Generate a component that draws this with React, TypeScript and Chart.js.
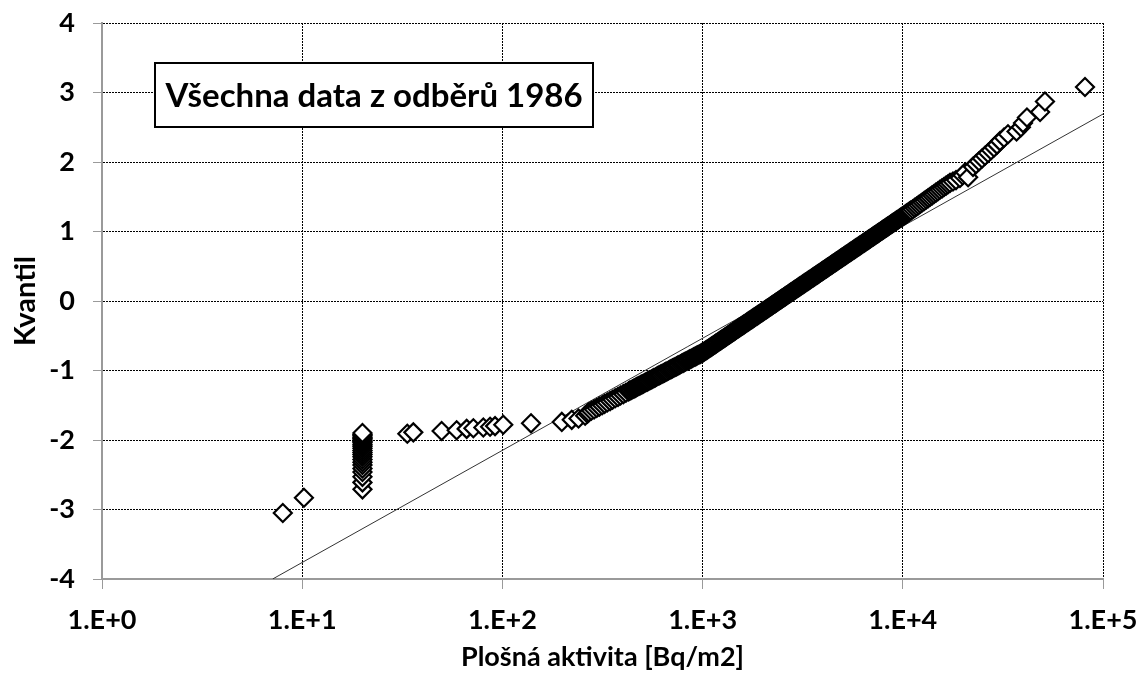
import React, { useEffect, useRef } from 'react';
import { Chart, registerables } from 'chart.js';

Chart.register(...registerables);

// Axis ticks
const xTickValues = [1, 10, 100, 1000, 10000, 100000];
const xTickLabels = ['1.E+0', '1.E+1', '1.E+2', '1.E+3', '1.E+4', '1.E+5'];
const yTickValues = [-4, -3, -2, -1, 0, 1, 2, 3, 4];

const chartTitle = 'Všechna data z odběrů 1986';
const xTitle = 'Plošná aktivita [Bq/m2]';
const yTitle = 'Kvantil';

// Lower tail (Bq/m2, quantile)
const lowActivity = [
  8.0, 10.2,
  20, 20, 20, 20, 20, 20, 20, 20, 20, 20, 20, 20, 20, 20, 20, 20, 20, 20, 20, 20, 20, 20, 20,
  33.5, 35.9, 49.7, 59.1, 66.3, 71.6, 80.3, 86.8, 91.9, 101, 139, 198, 222, 240, 259, 266,
];
const lowQuantile = [
  -3.05, -2.83,
  -2.71, -2.61, -2.53, -2.46, -2.41, -2.36, -2.32, -2.28, -2.24, -2.21, -2.18, -2.15,
  -2.12, -2.09, -2.07, -2.04, -2.02, -2.0, -1.98, -1.96, -1.94, -1.92, -1.9,
  -1.91, -1.89, -1.87, -1.86, -1.84, -1.83, -1.82, -1.81, -1.8, -1.78, -1.76, -1.74, -1.71, -1.69, -1.65, -1.62,
];

// Dense central band (even hundredths of the quantile)
const bandActivity = [
  270, 278, 287, 296, 305, 315, 324, 334, 345, 355,
  366, 378, 389, 402, 414, 427, 440, 454, 468, 482,
  498, 513, 529, 546, 562, 580, 597, 616, 636, 655,
  676, 696, 718, 741, 763, 787, 811, 837, 863, 889,
  917, 945, 975,
  1005, 1028, 1053, 1078, 1104, 1130, 1157, 1184, 1212, 1241,
  1270, 1301, 1332, 1363, 1396, 1428, 1462, 1497, 1532, 1569,
  1606, 1644, 1683, 1723, 1764, 1806, 1849, 1893, 1938, 1984,
  2031, 2079, 2129, 2179, 2231, 2284, 2338, 2393, 2450, 2508,
  2568, 2629, 2692, 2755, 2820, 2887, 2956, 3026, 3098, 3171,
  3247, 3324, 3403, 3484, 3567, 3651, 3738, 3827, 3917, 4010,
  4106, 4203, 4303, 4406, 4510, 4617, 4727, 4839, 4954, 5072,
  5192, 5315, 5442, 5571, 5703, 5838, 5977, 6119, 6264, 6413,
  6565, 6721, 6881, 7044, 7211, 7382, 7557, 7737, 7921, 8109,
  8301, 8499, 8700, 8907, 9118, 9333, 9555, 9781, 10014,
  10250, 10480, 10720, 10960, 11210, 11460, 11720, 11980, 12250, 12530,
  12810, 13100, 13400, 13700, 14010, 14320, 14640, 14980, 15310,
];
const bandQuantile = [
  -1.6, -1.58, -1.56, -1.54, -1.52, -1.5, -1.48, -1.46, -1.44, -1.42,
  -1.4, -1.38, -1.36, -1.34, -1.32, -1.3, -1.28, -1.26, -1.24, -1.22,
  -1.2, -1.18, -1.16, -1.14, -1.12, -1.1, -1.08, -1.06, -1.04, -1.02,
  -1.0, -0.98, -0.96, -0.94, -0.92, -0.9, -0.88, -0.86, -0.84, -0.82,
  -0.8, -0.78, -0.76,
  -0.74, -0.72, -0.7, -0.68, -0.66, -0.64, -0.62, -0.6, -0.58, -0.56,
  -0.54, -0.52, -0.5, -0.48, -0.46, -0.44, -0.42, -0.4, -0.38, -0.36,
  -0.34, -0.32, -0.3, -0.28, -0.26, -0.24, -0.22, -0.2, -0.18, -0.16,
  -0.14, -0.12, -0.1, -0.08, -0.06, -0.04, -0.02, 0.0, 0.02, 0.04,
  0.06, 0.08, 0.1, 0.12, 0.14, 0.16, 0.18, 0.2, 0.22, 0.24,
  0.26, 0.28, 0.3, 0.32, 0.34, 0.36, 0.38, 0.4, 0.42, 0.44,
  0.46, 0.48, 0.5, 0.52, 0.54, 0.56, 0.58, 0.6, 0.62, 0.64,
  0.66, 0.68, 0.7, 0.72, 0.74, 0.76, 0.78, 0.8, 0.82, 0.84,
  0.86, 0.88, 0.9, 0.92, 0.94, 0.96, 0.98, 1.0, 1.02, 1.04,
  1.06, 1.08, 1.1, 1.12, 1.14, 1.16, 1.18, 1.2, 1.22,
  1.24, 1.26, 1.28, 1.3, 1.32, 1.34, 1.36, 1.38, 1.4, 1.42,
  1.44, 1.46, 1.48, 1.5, 1.52, 1.54, 1.56, 1.58, 1.6,
];

// Dense central band (odd hundredths of the quantile)
const bandOddActivity = [
  433, 447, 461, 475, 490, 505, 521, 537, 554, 571,
  588, 606, 626, 645, 665, 686, 707, 729, 752, 775,
  799, 824, 850, 876, 903, 931, 960, 990, 1016, 1040,
  1065, 1091, 1117, 1143, 1170, 1198, 1226, 1255, 1285, 1316,
  1347, 1379, 1412, 1445, 1479, 1514, 1550, 1587, 1625, 1663,
  1703, 1743, 1785, 1827, 1871, 1915, 1961, 2007, 2055, 2104,
  2154, 2205, 2257, 2311, 2365, 2421, 2479, 2538, 2598, 2660,
  2723, 2787, 2853, 2921, 2991, 3062, 3134, 3209, 3285, 3363,
  3443, 3525, 3609, 3694, 3782, 3872, 3963, 4058, 4154, 4253,
  4354, 4458, 4563, 4672, 4783, 4896, 5013, 5132, 5253, 5378,
  5506, 5637, 5770, 5907, 6048, 6191, 6338, 6489, 6643, 6801,
  6962, 7127, 7296, 7469, 7647, 7829, 8015, 8205, 8400, 8599,
  8803, 9012, 9225, 9444, 9668, 9897, 10130, 10360, 10600, 10840,
];
const bandOddQuantile = [
  -1.29, -1.27, -1.25, -1.23, -1.21, -1.19, -1.17, -1.15, -1.13, -1.11,
  -1.09, -1.07, -1.05, -1.03, -1.01, -0.99, -0.97, -0.95, -0.93, -0.91,
  -0.89, -0.87, -0.85, -0.83, -0.81, -0.79, -0.77, -0.75, -0.73, -0.71,
  -0.69, -0.67, -0.65, -0.63, -0.61, -0.59, -0.57, -0.55, -0.53, -0.51,
  -0.49, -0.47, -0.45, -0.43, -0.41, -0.39, -0.37, -0.35, -0.33, -0.31,
  -0.29, -0.27, -0.25, -0.23, -0.21, -0.19, -0.17, -0.15, -0.13, -0.11,
  -0.09, -0.07, -0.05, -0.03, -0.01, 0.01, 0.03, 0.05, 0.07, 0.09,
  0.11, 0.13, 0.15, 0.17, 0.19, 0.21, 0.23, 0.25, 0.27, 0.29,
  0.31, 0.33, 0.35, 0.37, 0.39, 0.41, 0.43, 0.45, 0.47, 0.49,
  0.51, 0.53, 0.55, 0.57, 0.59, 0.61, 0.63, 0.65, 0.67, 0.69,
  0.71, 0.73, 0.75, 0.77, 0.79, 0.81, 0.83, 0.85, 0.87, 0.89,
  0.91, 0.93, 0.95, 0.97, 0.99, 1.01, 1.03, 1.05, 1.07, 1.09,
  1.11, 1.13, 1.15, 1.17, 1.19, 1.21, 1.23, 1.25, 1.27, 1.29,
];

// Upper tail
const highActivity = [
  15700, 16060, 16440, 16820, 17210, 17810, 18440, 19300, 19900, 20500, 21200,
  22420, 23210, 24030, 24870, 25740, 26650, 27580, 28540, 29540, 30580, 32020, 33530,
  37000, 38900, 39850, 41700, 48500, 51300, 81300,
];
const highQuantile = [
  1.62, 1.64, 1.66, 1.68, 1.7, 1.72, 1.74, 1.77, 1.81, 1.85, 1.78,
  1.93, 1.97, 2.01, 2.05, 2.09, 2.13, 2.17, 2.21, 2.25, 2.3, 2.35, 2.4,
  2.44, 2.5, 2.56, 2.64, 2.72, 2.87, 3.08,
];

// Reference (normal fit) line end points
const fitActivity = [7.12, 100000];
const fitQuantile = [-4, 2.69];

const FONT = 'Lato, "Open Sans", sans-serif';

function zip(xs: number[], ys: number[]) {
  return xs.map((x, i) => ({ x, y: ys[i] }));
}

export default function App() {
  const ref = useRef<HTMLCanvasElement | null>(null);

  useEffect(() => {
    document.body.style.margin = '0';
    const canvas = ref.current;
    if (!canvas) return;

    const titleBox = {
      id: 'titleBox',
      afterDraw(chart: any) {
        const { ctx, chartArea } = chart;
        const left = chartArea.left + 53;
        const top = chartArea.top + 40;
        const w = 438;
        const h = 64;
        ctx.save();
        ctx.fillStyle = '#ffffff';
        ctx.fillRect(left, top, w, h);
        ctx.lineWidth = 2;
        ctx.strokeStyle = '#000000';
        ctx.strokeRect(left, top, w, h);
        ctx.fillStyle = '#000000';
        ctx.font = `bold 33px ${FONT}`;
        ctx.textAlign = 'center';
        ctx.textBaseline = 'middle';
        ctx.fillText(chartTitle, left + w / 2, top + h / 2 + 1);
        ctx.restore();
      },
    };

    const band = [...zip(bandActivity, bandQuantile), ...zip(bandOddActivity, bandOddQuantile)].sort(
      (a, b) => a.y - b.y,
    );

    const points = [...zip(lowActivity, lowQuantile), ...band, ...zip(highActivity, highQuantile)];

    const tickFont = { family: FONT, size: 27, weight: 'bold' as const };

    const chart = new Chart(canvas, {
      type: 'scatter',
      data: {
        datasets: [
          {
            label: 'data',
            data: points,
            pointStyle: 'rectRot',
            pointRadius: 9,
            pointHoverRadius: 9,
            borderWidth: 2.2,
            borderColor: '#000000',
            backgroundColor: '#ffffff',
          },
          {
            label: 'fit',
            data: zip(fitActivity, fitQuantile),
            showLine: true,
            borderColor: '#333333',
            borderWidth: 1,
            pointRadius: 0,
            pointHoverRadius: 0,
            fill: false,
          },
        ],
      },
      options: {
        responsive: false,
        animation: false,
        events: [],
        layout: { padding: { top: 23, right: 39, left: 0, bottom: 0 } },
        plugins: {
          legend: { display: false },
          tooltip: { enabled: false },
        },
        scales: {
          x: {
            type: 'logarithmic',
            position: 'bottom',
            min: 1,
            max: 100000,
            afterBuildTicks: (s: any) => {
              s.ticks = xTickValues.map((v) => ({ value: v }));
            },
            afterFit: (s: any) => {
              s.height = 99;
              s.paddingLeft = 0;
              s.paddingRight = 0;
            },
            ticks: {
              autoSkip: false,
              maxRotation: 0,
              padding: 15,
              color: '#000000',
              font: tickFont,
              callback: (v: any) => {
                const i = xTickValues.indexOf(Number(v));
                return i >= 0 ? xTickLabels[i] : '';
              },
            },
            grid: {
              color: '#000000',
              lineWidth: 1,
              tickLength: 10,
              tickColor: '#9a9a9a',
              tickWidth: 1,
            },
            border: { display: true, color: '#9a9a9a', width: 2, dash: [2, 1] },
            title: {
              display: true,
              text: xTitle,
              color: '#000000',
              font: { family: FONT, size: 27, weight: 'bold' },
              padding: { top: 0, bottom: 5 },
            },
          },
          y: {
            type: 'linear',
            min: -4,
            max: 4,
            afterBuildTicks: (s: any) => {
              s.ticks = yTickValues.map((v) => ({ value: v }));
            },
            afterFit: (s: any) => {
              s.width = 102;
              s.paddingTop = 0;
              s.paddingBottom = 0;
            },
            ticks: {
              padding: 18,
              color: '#000000',
              font: tickFont,
              callback: (v: any) => String(v),
            },
            grid: {
              color: '#000000',
              lineWidth: 1,
              tickLength: 9,
              tickColor: '#9a9a9a',
              tickWidth: 1,
            },
            border: { display: true, color: '#9a9a9a', width: 2, dash: [2, 1] },
            title: {
              display: true,
              text: yTitle,
              color: '#000000',
              font: { family: FONT, size: 29, weight: 'bold' },
              padding: { top: 8, bottom: 0 },
            },
          },
        },
      },
      plugins: [titleBox],
    });

    return () => chart.destroy();
  }, []);

  return (
    <div style={{ width: 1142, height: 678 }}>
      <canvas ref={ref} width={1142} height={678} style={{ display: 'block' }} />
    </div>
  );
}
